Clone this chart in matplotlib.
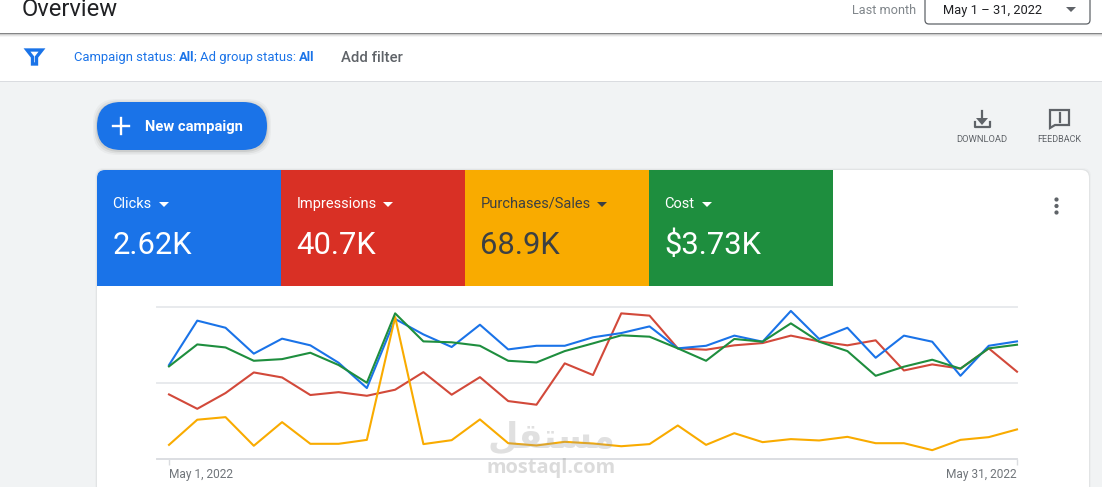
import matplotlib
matplotlib.use("Agg")
import matplotlib.pyplot as plt
from matplotlib.patches import FancyBboxPatch, Rectangle, Polygon, Circle

plt.rcParams['font.family'] = ['Roboto', 'DejaVu Sans']

days = list(range(1, 32))
clicks = [61.7, 91.0, 86.3, 69.2, 79.1, 74.7, 63.2, 46.5, 92.1, 81.9, 73.6, 88.3, 72.0, 74.4, 74.4, 80.0,
          82.8, 87.2, 72.7, 74.4, 81.1, 77.1, 97.4, 78.9, 86.3, 66.5, 81.1, 77.1, 54.6, 74.4, 77.3]
impressions = [42.3, 32.8, 43.2, 56.8, 53.5, 41.9, 43.8, 41.4, 45.4, 57.0, 42.1, 53.7, 37.9, 35.5, 62.8, 55.1,
               95.8, 94.3, 72.7, 71.8, 74.7, 76.2, 81.1, 77.3, 74.7, 78.0, 58.1, 62.1, 59.3, 72.7, 57.3]
purchases = [9.0, 25.6, 27.3, 8.4, 24.0, 9.7, 9.7, 12.3, 93.4, 9.5, 12.1, 25.8, 10.1, 8.6, 11.0, 9.9,
             8.1, 9.5, 21.8, 9.0, 16.7, 10.8, 12.8, 11.9, 14.3, 10.1, 10.1, 5.5, 12.3, 14.1, 19.2]
cost = [60.8, 75.3, 73.3, 64.5, 65.6, 69.8, 61.7, 50.0, 95.8, 77.3, 76.7, 74.4, 64.5, 63.4, 70.9, 76.0,
        81.3, 80.4, 72.7, 64.5, 78.9, 77.1, 89.2, 77.1, 70.9, 54.6, 60.6, 65.2, 59.3, 72.7, 75.1]

metric_names = ['Clicks', 'Impressions', 'Purchases/Sales', 'Cost']
metric_values = ['2.62K', '40.7K', '68.9K', '$3.73K']
date_labels = ['May 1, 2022', 'May 31, 2022']

BLUE = '#1a73e8'
RED = '#d93025'
YELLOW = '#f9ab00'
GREEN = '#1e8e3e'
GREY = '#5f6368'
INK = '#3c4043'


def px(size):
    return size * 0.72


fig = plt.figure(figsize=(11.02, 4.87), dpi=100)
ui = fig.add_axes([0, 0, 1, 1])
ui.set_xlim(0, 1102)
ui.set_ylim(487, 0)
ui.axis('off')

# page background and header bars
ui.add_patch(Rectangle((0, 0), 1102, 487, color='#f1f3f4', lw=0, zorder=0))
ui.add_patch(Rectangle((0, 34), 1102, 47, color='white', lw=0, zorder=1))
ui.add_patch(Rectangle((0, 81), 1102, 1, color='#dadce0', lw=0, zorder=1))
for i, a in enumerate([0.45, 0.2, 0.1, 0.04]):
    ui.add_patch(Rectangle((0, 33 + i), 1102, 1, color='black', alpha=a, lw=0, zorder=2))
ui.add_patch(Rectangle((0, 0), 1102, 33, color='white', lw=0, zorder=2))

ui.text(22, 16, 'Overview', fontsize=px(23.8), color='#202124', va='baseline', zorder=3)
ui.text(852, 14, 'Last month', fontsize=px(12.7), color='#80868b', va='baseline', zorder=3)
ui.add_patch(FancyBboxPatch((925, -10), 165, 34, boxstyle='round,pad=0,rounding_size=4',
                            fc='white', ec=GREY, lw=0.9, zorder=3))
ui.text(943, 14, 'May 1 – 31, 2022', fontsize=px(12.9), color='#202124', va='baseline', zorder=4)
ui.add_patch(Polygon([(1066, 7), (1076, 7), (1071, 12)], color=GREY, lw=0, zorder=4))

# filter row
ui.add_patch(Polygon([(27, 50), (42, 50), (36.5, 57), (36.5, 64), (32.5, 64), (32.5, 57)], closed=True,
                     fc='none', ec=BLUE, lw=2.4, joinstyle='miter', zorder=3))
for x, s, w in [(74, 'Campaign status: ', 'normal'), (179, 'All', 'bold'), (194, ';', 'normal'),
                (200, 'Ad group status: ', 'normal'), (299, 'All', 'bold')]:
    ui.text(x, 61, s, fontsize=px(13), color=BLUE, va='baseline', fontweight=w, zorder=3)
ui.text(341, 62, 'Add filter', fontsize=px(14.9), color=GREY, va='baseline', fontweight='medium', zorder=3)

# new campaign button
for grow, a in [(4, 0.03), (2.5, 0.05), (1, 0.08)]:
    ui.add_patch(FancyBboxPatch((97 - grow, 103 - grow), 170 + 2 * grow, 48 + 2 * grow,
                                boxstyle='round,pad=0,rounding_size=24', fc='black', alpha=a, lw=0, zorder=1))
ui.add_patch(FancyBboxPatch((97, 102), 170, 48, boxstyle='round,pad=0,rounding_size=24', fc=BLUE, lw=0, zorder=2))
ui.plot([113, 129], [126, 126], color='white', lw=1.7, zorder=3)
ui.plot([121, 121], [118, 134], color='white', lw=1.7, zorder=3)
ui.text(145, 131, 'New campaign', fontsize=px(14.7), color='white', va='baseline', fontweight='bold', zorder=3)

# download icon
ui.plot([982, 982], [111, 122], color=GREY, lw=1.6, zorder=3)
ui.add_patch(Polygon([(976, 118), (988, 118), (982, 125)], color=GREY, lw=0, zorder=3))
ui.plot([975, 975, 990, 990], [122, 127, 127, 122], color=GREY, lw=1.6, zorder=3)
ui.text(982, 140, 'DOWNLOAD', fontsize=px(9.4), color=GREY, ha='center', va='center', zorder=3)

# feedback icon
ui.add_patch(Polygon([(1050, 110), (1069, 110), (1069, 125), (1055, 125), (1050, 128)], closed=True,
                     fc='none', ec=GREY, lw=1.6, zorder=3))
ui.plot([1059.5, 1059.5], [113, 118], color=GREY, lw=1.6, zorder=3)
ui.plot([1059.5, 1059.5], [120, 122], color=GREY, lw=1.6, zorder=3)
ui.text(1059.5, 140, 'FEEDBACK', fontsize=px(9), color=GREY, ha='center', va='center', zorder=3)

# chart card
for grow, a in [(2, 0.02), (1, 0.04)]:
    ui.add_patch(FancyBboxPatch((97 - grow, 170 - grow), 992 + 2 * grow, 340,
                                boxstyle='round,pad=0,rounding_size=8', fc='black', alpha=a, lw=0, zorder=1))
ui.add_patch(FancyBboxPatch((97, 170), 992, 340, boxstyle='round,pad=0,rounding_size=8', fc='white', lw=0, zorder=2))
for y in [199.5, 206, 212.5]:
    ui.add_patch(Circle((1056.5, y), 2.1, color=GREY, lw=0, zorder=3))

# metric tiles
tile_x = [97, 281, 465, 649]
tile_colors = [BLUE, RED, YELLOW, GREEN]
text_colors = ['white', 'white', INK, 'white']
caret_x = [164, 388, 602, 707]
ui.add_patch(FancyBboxPatch((97, 170), 60, 116, boxstyle='round,pad=0,rounding_size=8', fc=BLUE, lw=0, zorder=3))
ui.add_patch(Rectangle((97, 180), 20, 106, color=BLUE, lw=0, zorder=3))
for i, name in enumerate(metric_names):
    left = tile_x[i] + (8 if i == 0 else 0)
    width = 184 - (8 if i == 0 else 0)
    ui.add_patch(Rectangle((left, 170), width, 116, color=tile_colors[i], lw=0, zorder=3))
    ui.text(tile_x[i] + 15.5, 208, name, fontsize=px(14.6), color=text_colors[i], va='baseline', zorder=4)
    ui.text(tile_x[i] + 15.5, 254, metric_values[i], fontsize=px(31), color=text_colors[i], va='baseline', zorder=4)
    ui.add_patch(Polygon([(caret_x[i] - 5, 202), (caret_x[i] + 5, 202), (caret_x[i], 207)],
                         color=text_colors[i], lw=0, zorder=4))

# the chart itself
ax = fig.add_axes([157 / 1102, 1 - 458.5 / 487, (1017 - 157) / 1102, (458.5 - 307) / 487])
ax.patch.set_alpha(0)
ax.set_xlim(1 - 12 / 28.27, 31)
ax.set_ylim(0, 100)
for side in ['top', 'right', 'left']:
    ax.spines[side].set_visible(False)
ax.spines['bottom'].set_color('#dadce0')
ax.spines['bottom'].set_linewidth(1.2)
ax.set_yticks([0, 50, 100])
ax.set_yticklabels([])
ax.tick_params(axis='y', length=0)
ax.grid(axis='y', color='#e8eaed', lw=1.4, clip_on=False)
ax.set_axisbelow(True)
ax.set_xticks([1, 31])
ax.set_xticklabels(date_labels, fontsize=px(11.9), color='#70757a')
ax.tick_params(axis='x', length=4, width=1, color='#dadce0', pad=3)
ax.get_xticklabels()[0].set_ha('left')
ax.get_xticklabels()[1].set_ha('right')
ax.plot(days, impressions, color='#d2493a', lw=1.5, clip_on=False)
ax.plot(days, clicks, color=BLUE, lw=1.5, clip_on=False)
ax.plot(days, purchases, color=YELLOW, lw=1.5, clip_on=False)
ax.plot(days, cost, color=GREEN, lw=1.5, clip_on=False)

# watermark, arabic letters joined and reversed since matplotlib draws left to right
top = fig.add_axes([0, 0, 1, 1])
top.set_xlim(0, 1102)
top.set_ylim(487, 0)
top.axis('off')
top.text(551, 448, 'ﻣﺴﺘﻘﻞ'[::-1], fontsize=px(35), color='#9a9a9a', alpha=0.3, ha='center', va='baseline',
         fontweight='bold', family='DejaVu Sans')
top.text(551, 472.5, 'mostaql.com', fontsize=px(20), color='#9a9a9a', alpha=0.35, ha='center', va='baseline',
         fontweight='bold', family='Open Sans')

fig.savefig('out.png', dpi=100)
